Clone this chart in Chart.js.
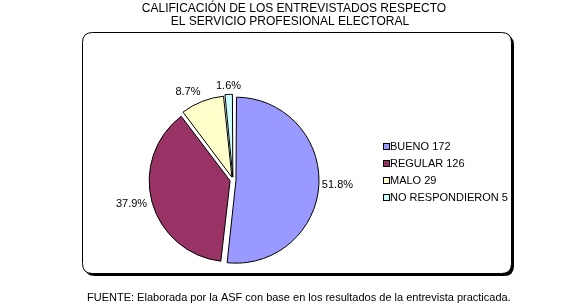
<!DOCTYPE html>
<html>
<head>
<meta charset="utf-8">
<script src="https://cdn.jsdelivr.net/npm/chart.js@4/dist/chart.umd.min.js"></script>
<style>
  html, body { margin: 0; padding: 0; background: #fff; }
  #wrap { width: 588px; height: 308px; position: relative; }
</style>
</head>
<body>
<div id="wrap"><canvas id="myChart" width="588" height="308"></canvas></div>
<script>
const titleLines = ['CALIFICACIÓN DE LOS ENTREVISTADOS RESPECTO', 'EL SERVICIO PROFESIONAL ELECTORAL'];
const categories = ['BUENO', 'REGULAR', 'MALO', 'NO RESPONDIERON'];
const counts = [172, 126, 29, 5];
const percents = [51.8, 37.9, 8.7, 1.6];
const sliceColors = ['#9999FF', '#993366', '#FFFFCC', '#CCFFFF'];
const footerText = 'FUENTE: Elaborada por la ASF con base en los resultados de la entrevista practicada.';

const FONT = '"Liberation Sans", Arial, sans-serif';

function roundRect(ctx, x, y, w, h, r) {
    ctx.beginPath();
    ctx.moveTo(x + r, y);
    ctx.lineTo(x + w - r, y);
    ctx.quadraticCurveTo(x + w, y, x + w, y + r);
    ctx.lineTo(x + w, y + h - r);
    ctx.quadraticCurveTo(x + w, y + h, x + w - r, y + h);
    ctx.lineTo(x + r, y + h);
    ctx.quadraticCurveTo(x, y + h, x, y + h - r);
    ctx.lineTo(x, y + r);
    ctx.quadraticCurveTo(x, y, x + r, y);
    ctx.closePath();
}

// frame, title and footer behind the pie
const framePlugin = {
    id: 'frame',
    beforeDraw(chart) {
        const ctx = chart.ctx;
        ctx.save();
        ctx.fillStyle = '#fff';
        ctx.fillRect(0, 0, chart.width, chart.height);

        // shadow
        ctx.fillStyle = '#000';
        roundRect(ctx, 85, 35, 429, 241, 10);
        ctx.fill();
        ctx.fillStyle = '#fff';
        roundRect(ctx, 82.5, 32.5, 429, 241, 10);
        ctx.fill();
        ctx.strokeStyle = '#000';
        ctx.lineWidth = 1;
        ctx.stroke();

        ctx.fillStyle = '#000';
        ctx.font = '12px ' + FONT;
        ctx.textAlign = 'center';
        ctx.textBaseline = 'middle';
        ctx.fillText(titleLines[0], 294, 8.5);
        ctx.fillText(titleLines[1], 290, 22);

        ctx.font = '11px ' + FONT;
        ctx.textAlign = 'left';
        ctx.fillText(footerText, 87, 298);
        ctx.restore();
    },
    afterDatasetsDraw(chart) {
        const ctx = chart.ctx;
        const meta = chart.getDatasetMeta(0);
        ctx.save();
        ctx.fillStyle = '#000';
        ctx.font = '11px ' + FONT;

        // percent labels outside the slices
        meta.data.forEach((arc, i) => {
            const p = arc.getProps(['x', 'y', 'startAngle', 'endAngle', 'outerRadius'], true);
            const mid = (p.startAngle + p.endAngle) / 2;
            const cos = Math.cos(mid), sin = Math.sin(mid);
            const r = p.outerRadius + 3 + 6;
            const lx = p.x + cos * r;
            const ly = p.y + sin * r;
            ctx.textAlign = cos > 0.35 ? 'left' : (cos < -0.35 ? 'right' : 'center');
            ctx.textBaseline = sin > 0.6 ? 'top' : (sin < -0.6 ? 'bottom' : 'middle');
            ctx.fillText(percents[i].toFixed(1) + '%', lx, ly);
        });

        // legend
        ctx.textAlign = 'left';
        ctx.textBaseline = 'middle';
        categories.forEach((c, i) => {
            const y = 147 + i * 17;
            ctx.fillStyle = sliceColors[i];
            ctx.fillRect(383.5, y - 3.5, 6, 6);
            ctx.strokeStyle = '#000';
            ctx.lineWidth = 1;
            ctx.strokeRect(383.5, y - 3.5, 6, 6);
            ctx.fillStyle = '#000';
            ctx.fillText(c + ' ' + counts[i], 390, y);
        });
        ctx.restore();
    }
};

new Chart(document.getElementById('myChart').getContext('2d'), {
    type: 'pie',
    data: {
        labels: categories,
        datasets: [{
            data: percents,
            backgroundColor: sliceColors,
            borderColor: '#000',
            borderWidth: 1,
            offset: 12,
            borderJoinStyle: 'miter'
        }]
    },
    options: {
        responsive: false,
        animation: false,
        devicePixelRatio: 1,
        layout: { padding: { left: 146.5, right: 268.5, top: 93.5, bottom: 41.5 } },
        plugins: {
            legend: { display: false },
            tooltip: { enabled: false },
            title: { display: false }
        }
    },
    plugins: [framePlugin]
});
</script>
</body>
</html>
